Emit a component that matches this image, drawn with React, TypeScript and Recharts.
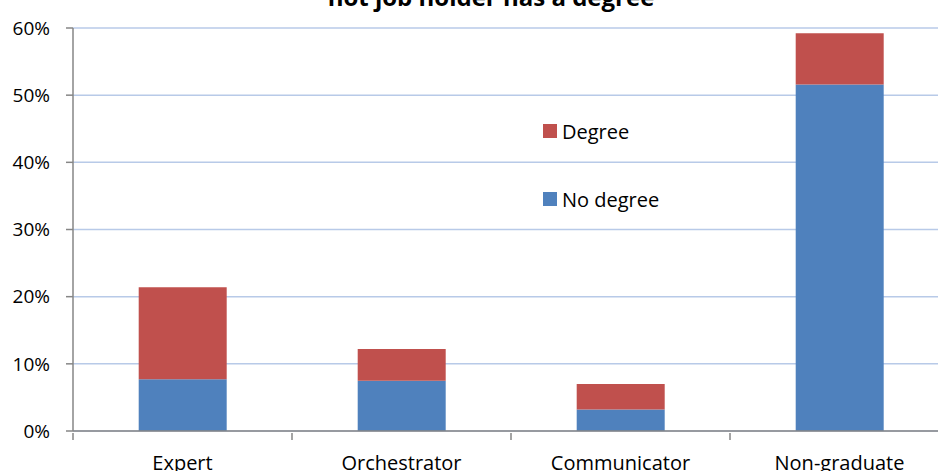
import { BarChart, Bar, XAxis, YAxis, CartesianGrid } from "recharts"

const categories = ["Expert", "Orchestrator", "Communicator", "Non-graduate"]
const noDegree = [7.7, 7.5, 3.2, 51.6]
const degree = [13.7, 4.7, 3.8, 7.6]
const yTicks = [0, 10, 20, 30, 40, 50, 60]

const data = categories.map((name, i) => ({ name, noDegree: noDegree[i], degree: degree[i] }))

const FONT = "'Open Sans', sans-serif"
const AXIS = "#868686"
const BAND = (960 - 11 - 73) / 4

// category tick: label at center, tick mark at the band's left boundary (and right for the last one)
const CatTick = ({ x, y, payload, index }: any) => (
  <g>
    <line x1={x - BAND / 2} x2={x - BAND / 2} y1={y} y2={y + 7} stroke={AXIS} strokeWidth={1.5} />
    {index === categories.length - 1 && (
      <line x1={x + BAND / 2} x2={x + BAND / 2} y1={y} y2={y + 7} stroke={AXIS} strokeWidth={1.5} />
    )}
    <text x={x} y={y + 23} dy="0.71em" textAnchor="middle" fontSize={20} fill="#000" fontFamily={FONT}>
      {payload.value}
    </text>
  </g>
)

const legendItems = [
  { label: "Degree", color: "#c0504d" },
  { label: "No degree", color: "#4f81bd" },
]

export default function App() {
  return (
    <div style={{ position: "fixed", left: 0, top: 0, width: 938, height: 471, overflow: "hidden", background: "#fff" }}>
      <BarChart
        width={960}
        height={471}
        data={data}
        margin={{ top: 28, right: 11, bottom: 0, left: 0 }}
        barCategoryGap="30%"
      >
        <CartesianGrid vertical={false} stroke="#b8cae8" strokeWidth={1.5} />
        <XAxis
          dataKey="name"
          height={40}
          tickLine={false}
          tickSize={0}
          axisLine={{ stroke: AXIS, strokeWidth: 1.5 }}
          tick={<CatTick />}
          interval={0}
        />
        <YAxis
          width={73}
          domain={[0, 60]}
          ticks={yTicks}
          tickFormatter={(v: number) => v + "%"}
          tickSize={7}
          tickMargin={16}
          axisLine={{ stroke: AXIS, strokeWidth: 1.5 }}
          tickLine={{ stroke: AXIS, strokeWidth: 1.5 }}
          tick={{ fontSize: 19, fill: "#000", fontFamily: FONT }}
        />
        <Bar dataKey="noDegree" stackId="a" fill="#4f81bd" name="No degree" isAnimationActive={false} />
        <Bar dataKey="degree" stackId="a" fill="#c0504d" name="Degree" isAnimationActive={false} />
      </BarChart>
      <div style={{ position: "absolute", left: 543, top: 118, fontFamily: FONT, fontSize: 20, color: "#000" }}>
        {legendItems.map((it, i) => (
          <div key={i} style={{ display: "flex", alignItems: "center", height: 26, marginBottom: i === 0 ? 42 : 0 }}>
            <span style={{ width: 14, height: 14, background: it.color, marginRight: 5 }} />
            <span>{it.label}</span>
          </div>
        ))}
      </div>
      <div
        style={{
          position: "absolute",
          left: 0,
          width: 982,
          top: -20,
          textAlign: "center",
          fontFamily: FONT,
          fontWeight: 700,
          fontSize: 24,
          lineHeight: "normal",
          color: "#000",
        }}
      >
        not job holder has a degree
      </div>
    </div>
  )
}
